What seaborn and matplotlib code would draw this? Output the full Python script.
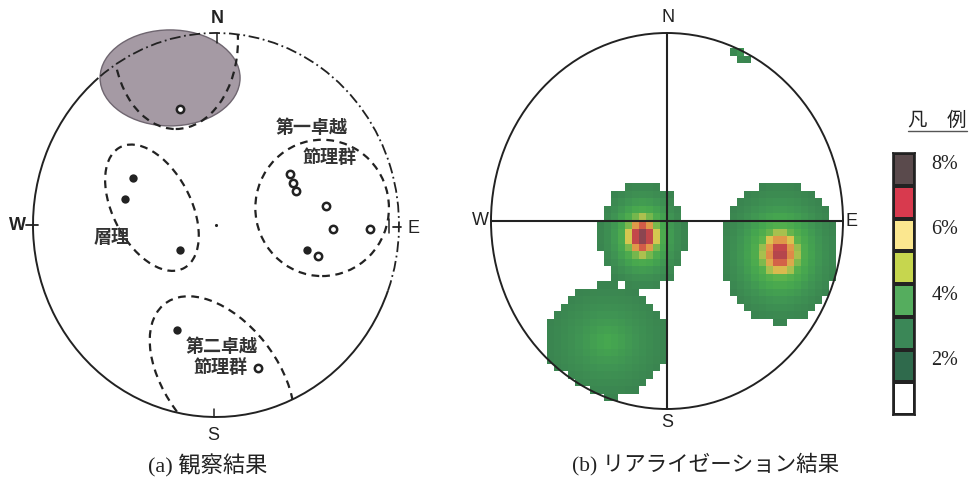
import numpy as np
import matplotlib
matplotlib.use("Agg")
import matplotlib.pyplot as plt
import seaborn as sns
from matplotlib.patches import Ellipse, Arc, Circle
from matplotlib.colors import ListedColormap, LinearSegmentedColormap
from matplotlib.lines import Line2D

# === (a) observed poles (unit stereonet coords, N up / E right) ===
filled_u = [-0.454, -0.497, -0.197, 0.497, -0.213]
filled_v = [0.245, 0.135, -0.130, -0.130, -0.547]
open_u = [-0.197, 0.404, 0.421, 0.437, 0.601, 0.639, 0.842, 0.557, 0.230]
open_v = [0.604, 0.266, 0.219, 0.177, 0.099, -0.021, -0.021, -0.161, -0.745]

# dashed group outlines (ellipses): centre, width, height, angle
group_u = [-0.22, -0.35, 0.58, 0.033]
group_v = [0.96, 0.09, 0.089, -0.80]
group_w = [0.68, 0.72, 0.73, 1.0]
group_h = [0.92, 0.42, 0.71, 0.6]
group_ang = [0, -60, 0, -50]

# shaded zone near N
shade = dict(u=-0.251, v=0.766, w=0.765, h=0.50)

label_text = ["層理", "第一卓越", "節理群", "第二卓越", "節理群"]
label_u = [-0.568, 0.525, 0.623, 0.033, 0.022]
label_v = [-0.0625, 0.51, 0.354, -0.635, -0.74]

# === (b) realization density clusters (percent) ===
cluster_u = [-0.14, 0.64, -0.34, 0.43]
cluster_v = [-0.08, -0.17, -0.64, 0.895]
cluster_su = [0.077, 0.108, 0.17, 0.045]
cluster_sv = [0.088, 0.121, 0.15, 0.03]
cluster_peak = [8.0, 7.0, 3.2, 2.2]
cluster_umax = [1.0, 1.0, 0.0, 1.0]
kernel_power = 1.2

# legend
legend_colors = ["#ffffff", "#2f6a4c", "#3b8757", "#55ad5e",
                 "#c6d64e", "#fbe78f", "#d83a4e", "#5a4a4c"]
legend_levels = [7, 6, 5, 4, 3, 2, 1, 0]
legend_ticks = [8, 6, 4, 2]

sns.set_style("white")
plt.rcParams['font.family'] = ['Noto Sans CJK JP', 'DejaVu Sans']

W, H = 972, 486
fig = plt.figure(figsize=(9.72, 4.86), dpi=100)
L = 1.15


def px_axes(cx, cy, rx, ry):
    w, h = 2 * L * rx, 2 * L * ry
    ax = fig.add_axes([(cx - w / 2) / W, (H - cy - h / 2) / H, w / W, h / H])
    ax.set_xlim(-L, L)
    ax.set_ylim(-L, L)
    ax.axis('off')
    return ax


ink = '#222222'
dir_font = dict(family=['Liberation Sans', 'DejaVu Sans'], fontsize=13, color=ink)

# ---------------- (a) ----------------
ax1 = px_axes(216, 225, 183, 192)
clip = Circle((0, 0), 1, fill=False, lw=0)
ax1.add_patch(clip)

ax1.add_patch(Ellipse((shade['u'], shade['v']), shade['w'], shade['h'],
                      facecolor='#a59aa4', edgecolor='#6f6670', lw=1, zorder=1))

ax1.add_patch(Arc((0, 0), 2, 2, theta1=130, theta2=340, color=ink, lw=1.4, zorder=3))
ax1.add_patch(Arc((0, 0), 2, 2, theta1=-20, theta2=130, color=ink, lw=1.3,
                  linestyle=(0, (6, 2, 1, 2)), zorder=3))

for cu, cv, w, h, a in zip(group_u, group_v, group_w, group_h, group_ang):
    e = Ellipse((cu, cv), w, h, angle=a, fill=False, edgecolor=ink, lw=1.6,
                linestyle=(0, (3.5, 2.5)), zorder=3)
    ax1.add_patch(e)
    e.set_clip_path(clip)

sns.scatterplot(x=filled_u, y=filled_v, ax=ax1, color=ink, s=36, linewidth=0, zorder=4)
sns.scatterplot(x=open_u, y=open_v, ax=ax1, facecolor='white', edgecolor=ink,
                s=28, linewidth=1.8, zorder=4)
sns.scatterplot(x=[0], y=[0], ax=ax1, color=ink, s=5, linewidth=0, zorder=4)

for t, u, v in zip(label_text, label_u, label_v):
    ax1.text(u, v, t, ha='center', va='center', fontsize=13, fontweight='bold',
             color='#333333', zorder=5)

# compass ticks
ax1.plot([-1.04, -0.97], [0, 0], color=ink, lw=1.3)
ax1.plot([0.965, 1.01], [-0.01, -0.01], color=ink, lw=1.3)
ax1.plot([0.945, 0.945], [-0.04, 0.03], color=ink, lw=1.1)
ax1.plot([0.005, 0.005], [1.0, 0.95], color=ink, lw=1.1)
ax1.plot([-0.01, -0.01], [-1.0, -0.96], color=ink, lw=1.1)

ax1.text(0.005, 1.078, 'N', ha='center', va='center', fontweight='bold', **dir_font)
ax1.text(-0.016, -1.094, 'S', ha='center', va='center', **dir_font)
ax1.text(-1.087, 0.0, 'W', ha='center', va='center', fontweight='bold', **dir_font)
ax1.text(1.077, -0.02, 'E', ha='center', va='center', **dir_font)

# ---------------- (b) ----------------
ax2 = px_axes(667, 221, 176, 188)
edges = np.arange(-1.0, 1.0001, 0.04)
cent = (edges[:-1] + edges[1:]) / 2
U, V = np.meshgrid(cent, cent)
field = np.zeros_like(U)
for cu, cv, su, sv, pk, um in zip(cluster_u, cluster_v, cluster_su, cluster_sv,
                                  cluster_peak, cluster_umax):
    r = np.sqrt(((U - cu) / su) ** 2 + ((V - cv) / sv) ** 2)
    field = np.maximum(field, pk * np.exp(-0.5 * r ** kernel_power) * (U <= um))
mask = (field < 1) | (U ** 2 + V ** 2 > 1)

anchors = [1, 2, 3, 4, 4.7, 5.4, 6, 7, 8]
anchor_colors = ["#3a8450", "#3f9453", "#45a64f", "#58b24c", "#d8c850",
                 "#e09048", "#cc4848", "#a04450", "#6a4850"]
cmap = LinearSegmentedColormap.from_list(
    'real', [((a - 1) / 7, c) for a, c in zip(anchors, anchor_colors)])
ax2.pcolormesh(edges, edges, np.ma.masked_where(mask, field), cmap=cmap,
               vmin=1, vmax=8, shading='flat', zorder=1)

ax2.add_patch(Circle((0, 0), 1, fill=False, edgecolor=ink, lw=1.4, zorder=3))
ax2.plot([-1, 1], [0, 0], color=ink, lw=1.5, zorder=3)
ax2.plot([0, 0], [-1, 1], color=ink, lw=1.5, zorder=3)

ax2.text(0.006, 1.08, 'N', ha='center', va='center', **dir_font)
ax2.text(0.0, -1.074, 'S', ha='center', va='center', **dir_font)
ax2.text(-1.062, 0.005, 'W', ha='center', va='center', **dir_font)
ax2.text(1.051, -0.005, 'E', ha='center', va='center', **dir_font)

# captions
cap_font = ['Liberation Serif', 'Noto Sans CJK JP']
fig.text(208 / W, 1 - 466 / H, '(a) 観察結果', ha='center', va='center',
         fontsize=16, family=cap_font, color=ink)
fig.text(706 / W, 1 - 464 / H, '(b) リアライゼーション結果', ha='center', va='center',
         fontsize=15.5, family=cap_font, color=ink)

# ---------------- legend ----------------
lax = fig.add_axes([893 / W, (H - 415) / H, 22 / W, 262 / H])
sns.heatmap(np.array(legend_levels).reshape(-1, 1), ax=lax,
            cmap=ListedColormap(legend_colors), vmin=-0.5, vmax=7.5, cbar=False,
            linewidths=1.5, linecolor=ink, xticklabels=False, yticklabels=False)
for sp in lax.spines.values():
    sp.set_visible(True)
    sp.set_color(ink)
    sp.set_linewidth(1.2)
for k in legend_ticks:
    lax.text(1.75, 8 - k + 0.05, f'{k}%', transform=lax.get_yaxis_transform(),
             ha='left', va='top', fontsize=14.5, family=['Liberation Serif'], color=ink)

fig.text(937 / W, 1 - 120 / H, '凡\u3000例', ha='center', va='center', fontsize=14,
         color=ink)
fig.add_artist(Line2D([908 / W, 967 / W], [1 - 131 / H, 1 - 131 / H],
                      color='#555555', lw=1))

fig.savefig('out.png', dpi=100)
